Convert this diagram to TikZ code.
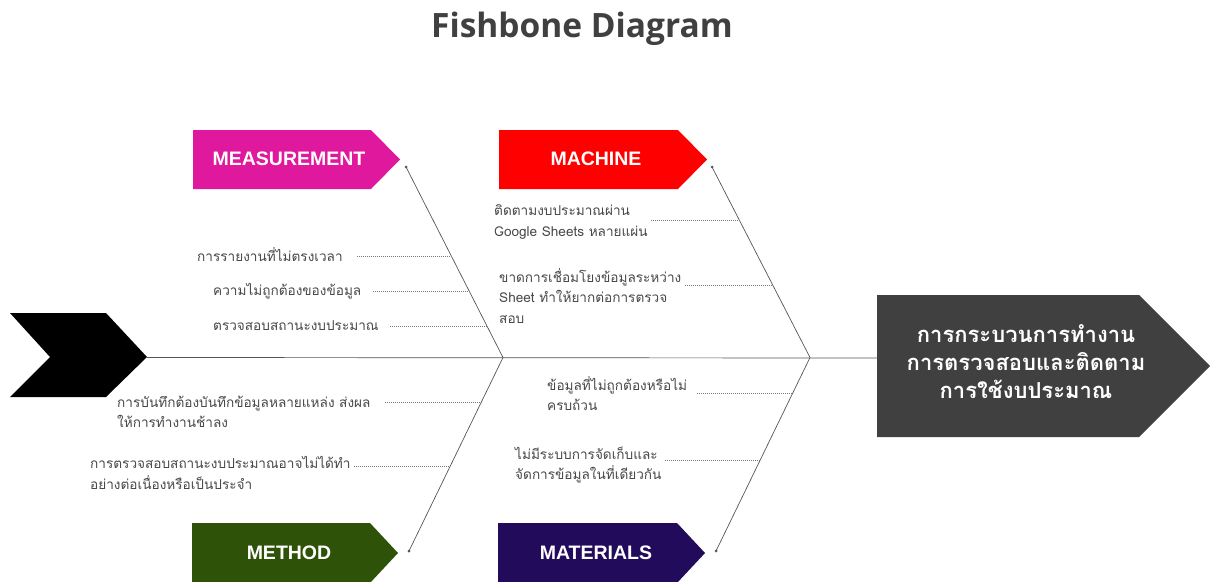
\documentclass[tikz,border=0pt]{standalone}
\usepackage{fontspec}
\usetikzlibrary{calc}
\newfontfamily\thai[Script=Thai]{Loma}
\newfontfamily\lab{Liberation Sans}
\newfontfamily\ttl{Open Sans}
\definecolor{cmeas}{HTML}{E0189E}
\definecolor{cmach}{HTML}{FF0000}
\definecolor{cmeth}{HTML}{2F5209}
\definecolor{cmat}{HTML}{230B5B}
\definecolor{cbox}{HTML}{404040}
\definecolor{ttlgray}{HTML}{404040}
\definecolor{txtgray}{HTML}{484848}
\definecolor{bonegray}{HTML}{555555}
\definecolor{dashgray}{HTML}{777777}
\begin{document}
\begin{tikzpicture}[x=1pt,y=-1pt,
  bone/.style={draw=bonegray, line width=0.7pt},
  sub/.style={draw=dashgray, line width=0.45pt, dash pattern=on 1.2pt off 0.8pt},
  cause/.style={font=\thai\fontsize{13.6}{20.5}\selectfont, text=txtgray, inner sep=0pt, align=left, anchor=west},
  cat/.style={font=\lab\bfseries\fontsize{19.5}{20}\selectfont, text=white, inner sep=0pt},
  enddot/.style={circle, fill=bonegray, inner sep=0pt, minimum size=3pt}
]
\useasboundingbox (0,0) rectangle (1215,581);
\clip (0,0) rectangle (1215,581);
\fill[white] (0,0) rectangle (1215,581);

% title
\node[font=\ttl\bfseries\fontsize{33.5}{36}\selectfont, text=ttlgray, inner sep=0pt] (title) at (582,29) {Fishbone Diagram};

% category arrows
\fill[cmeas] (193,130) -- (371,130) -- (400,159.5) -- (371,189) -- (193,189) -- cycle;
\node[cat] (meas) at (289,159) {MEASUREMENT};
\fill[cmach] (499,130) -- (678,130) -- (707,159.5) -- (678,189) -- (499,189) -- cycle;
\node[cat] (mach) at (596,159) {MACHINE};
\fill[cmeth] (192,523) -- (370,523) -- (398,553) -- (370,583) -- (192,583) -- cycle;
\node[cat] (meth) at (289,553) {METHOD};
\fill[cmat] (498,523) -- (677,523) -- (705,553) -- (677,583) -- (498,583) -- cycle;
\node[cat] (mat) at (596,553) {MATERIALS};

% tail chevron
\fill[black] (10,313) -- (106,313) -- (147,357) -- (106,397) -- (10,397) -- (50,357) -- cycle;
\coordinate (tail) at (147,357.5);

% effect box
\fill[cbox] (877,295) -- (1139,295) -- (1210,366) -- (1139,437) -- (877,437) -- cycle;
\coordinate (head) at (877,358);
\node[font=\thai\bfseries\fontsize{22}{28}\selectfont, text=white, align=center, inner sep=0pt] (effect) at (1026,362)
  {การกระบวนการทำงาน\\การตรวจสอบและติดตาม\\การใช้งบประมาณ};

% spine and bones
\coordinate (j1) at (503,357.5);
\coordinate (j2) at (810,357.5);
\coordinate (mdot) at (406,167);
\coordinate (cdot) at (712,167);
\coordinate (tdot) at (409,551);
\coordinate (ldot) at (716,551);
\draw[bone] (tail) -- (head);
\draw[bone] (mdot) -- (j1);
\draw[bone] (cdot) -- (j2);
\draw[bone] (j1) -- (tdot);
\draw[bone] (j2) -- (ldot);
\node[enddot] (d1) at (mdot) {};
\node[enddot] (d2) at (cdot) {};
\node[enddot] (d3) at (tdot) {};
\node[enddot] (d4) at (ldot) {};

% causes
\node[cause] (c1) at (197,255) {การรายงานที่ไม่ตรงเวลา};
\node[cause] (c2) at (213,291) {ความไม่ถูกต้องของข้อมูล};
\node[cause] (c3) at (213,326) {ตรวจสอบสถานะงบประมาณ};
\node[cause] (c4) at (494,222) {ติดตามงบประมาณผ่าน\\Google Sheets หลายแผ่น};
\node[cause] (c5) at (499,296) {ขาดการเชื่อมโยงข้อมูลระหว่าง\\Sheet ทำให้ยากต่อการตรวจ\\สอบ};
\node[cause] (c6) at (117,412) {การบันทึกต้องบันทึกข้อมูลหลายแหล่ง ส่งผล\\ให้การทำงานช้าลง};
\node[cause] (c7) at (90,473) {การตรวจสอบสถานะงบประมาณอาจไม่ได้ทำ\\อย่างต่อเนื่องหรือเป็นประจำ};
\node[cause] (c8) at (547,393.5) {ข้อมูลที่ไม่ถูกต้องหรือไม่\\ครบถ้วน};
\node[cause] (c9) at (515,465) {ไม่มีระบบการจัดเก็บและ\\จัดการข้อมูลในที่เดียวกัน};

% sub-branch connectors: start after the text, end on the bone
\foreach \i/\sx/\yy/\ex in {1/357/256/451.3, 2/373/291/469.3, 3/390/326/487.2,
                             4/644/220/739.2, 5/675/285/772.5, 6/385/402/481.6,
                             7/343/466/448, 8/697/393/793, 9/655/460/760.3} {
  \path let \p1=(c\i.east) in coordinate (s\i) at ({max(\x1+3,\sx)}, \yy);
  \coordinate (e\i) at (\ex,\yy);
  \draw[sub] (s\i) -- (e\i);
}
\end{tikzpicture}
\end{document}
